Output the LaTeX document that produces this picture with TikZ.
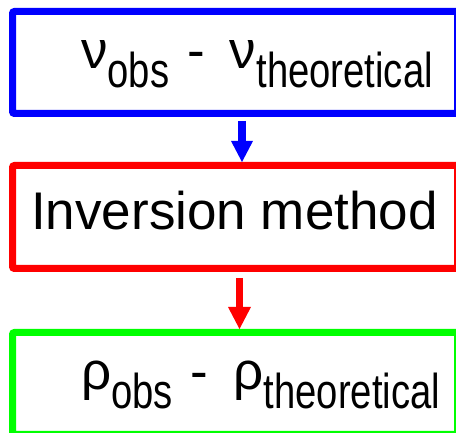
\documentclass[tikz,border=0pt]{standalone}
\usepackage{fontspec}
\setmainfont{Liberation Sans}
\newfontfamily\narrowfont[FakeStretch=0.78]{Liberation Sans}
\usetikzlibrary{positioning,arrows.meta}
\definecolor{pblue}{RGB}{0,0,255}
\definecolor{pred}{RGB}{255,0,0}
\definecolor{pgreen}{RGB}{0,255,0}
\newcommand{\lowsub}[1]{\raisebox{-19pt}{\narrowfont\fontsize{49}{49}\selectfont #1}}

\begin{document}
\begin{tikzpicture}[x=1pt, y=1pt,
      box/.style={draw, line width=7pt, rounded corners=2pt,
        minimum width=445pt, minimum height=102pt, inner sep=0pt},
      big/.style={font=\fontsize{53}{53}\selectfont, inner sep=0pt},
      flow/.style={line width=8pt,
        -{Triangle[length=21pt, width=22pt, line width=0pt]}}]
    \useasboundingbox (0,0) rectangle (456,433);
    \clip (0,0) rectangle (456,433);

    % boxes
    \node[box, draw=pblue] (nu) at (235,370.5) {};
    \node[box, draw=pred, minimum height=103pt, below=45pt of nu] (inv) {};
    \node[box, draw=pgreen, below=57pt of inv] (rho) {};

    % texts
    \node[big, anchor=base west] (nutext) at (81,364)
      {ν\lowsub{obs}\hspace{18pt}-\hspace{25pt}ν\lowsub{theoretical}};
    \node[big, anchor=base] (invtext) at (234.5,203) {Inversion method};
    \node[big, anchor=base west] (rhotext) at (81,43)
      {ρ\lowsub{obs}\hspace{18pt}-\hspace{25pt}ρ\lowsub{theoretical}};

    \draw[flow, pblue, shorten <=4pt] ([xshift=7pt]nu.south) -- ([xshift=7pt]inv.north);
    \draw[flow, pred, line width=7pt, shorten <=6pt,
      -{Triangle[length=22pt, width=23pt, line width=0pt]}]
      ([xshift=4.5pt]inv.south) -- ([xshift=4.5pt]rho.north);
  \end{tikzpicture}
\end{document}
